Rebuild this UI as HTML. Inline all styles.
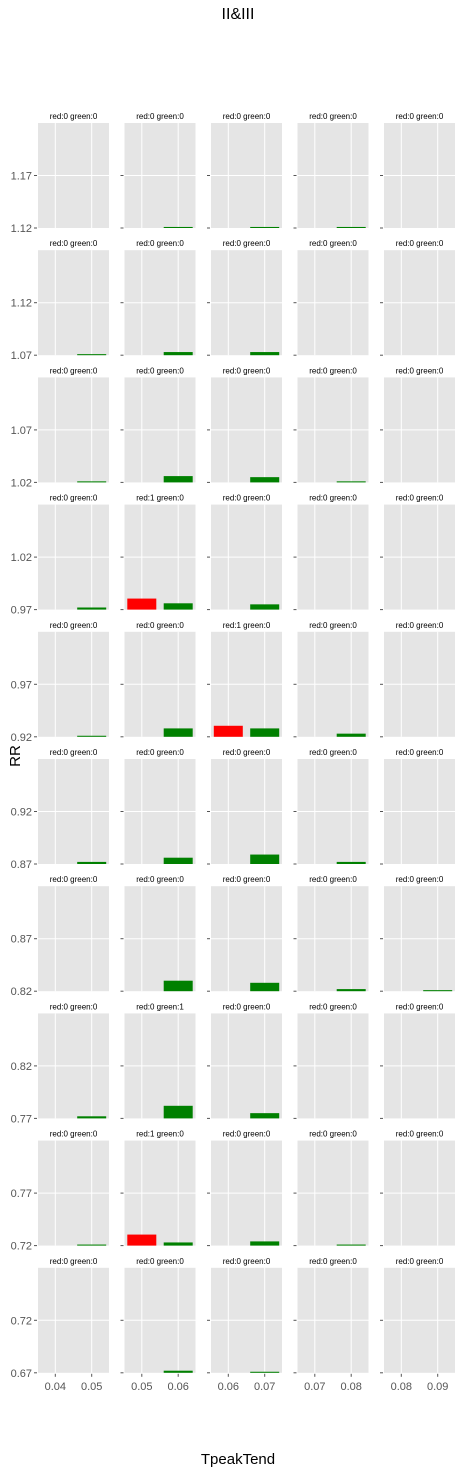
<!DOCTYPE html>
<html><head><meta charset="utf-8">
<style>
body{margin:0;background:#fff;}
svg{display:block;font-family:"Liberation Sans","DejaVu Sans",sans-serif;}
</style></head>
<body>
<svg id="chart" width="466" height="1474" viewBox="0 0 466 1474" xmlns="http://www.w3.org/2000/svg">
<text x="238" y="19" font-size="16" text-anchor="middle" fill="#000">II&amp;III</text>
<text x="20" y="756" font-size="15" text-anchor="middle" fill="#000" transform="rotate(-90 20 756)">RR</text>
<text x="238" y="1464" font-size="15" text-anchor="middle" fill="#000">TpeakTend</text>
</svg>
<script>
// Row baseline values (bottom of each panel's y-range)
const rowBases = [1.12, 1.07, 1.02, 0.97, 0.92, 0.87, 0.82, 0.77, 0.72, 0.67];
// Column x tick labels
const colTicks = [["0.04","0.05"],["0.05","0.06"],["0.06","0.07"],["0.07","0.08"],["0.08","0.09"]];
// Red bar heights (y units) per row/col
const redVals = [
 [0,0,0,0,0],
 [0,0,0,0,0],
 [0,0,0,0,0],
 [0,0.0105,0,0,0],
 [0,0,0.0105,0,0],
 [0,0,0,0,0],
 [0,0,0,0,0],
 [0,0,0,0,0],
 [0,0.0105,0,0,0],
 [0,0,0,0,0]
];
// Green bar heights (y units) per row/col
const greenVals = [
 [0,0.001,0.001,0.001,0],
 [0.001,0.003,0.003,0,0],
 [0.001,0.006,0.005,0.001,0],
 [0.002,0.006,0.005,0,0],
 [0.001,0.008,0.008,0.003,0],
 [0.002,0.006,0.009,0.002,0],
 [0,0.010,0.008,0.002,0.001],
 [0.002,0.012,0.005,0,0],
 [0.001,0.003,0.004,0.001,0],
 [0,0.002,0.001,0,0]
];
// Title counts per row/col
const redCounts = [
 [0,0,0,0,0],[0,0,0,0,0],[0,0,0,0,0],[0,1,0,0,0],[0,0,1,0,0],
 [0,0,0,0,0],[0,0,0,0,0],[0,0,0,0,0],[0,1,0,0,0],[0,0,0,0,0]
];
const greenCounts = [
 [0,0,0,0,0],[0,0,0,0,0],[0,0,0,0,0],[0,0,0,0,0],[0,0,0,0,0],
 [0,0,0,0,0],[0,0,0,0,0],[0,1,0,0,0],[0,0,0,0,0],[0,0,0,0,0]
];

const NS = "http://www.w3.org/2000/svg";
const svg = document.getElementById("chart");
const axW = 71, axH = 105, x0 = 38, colStep = 86.5, y0 = 123, rowStep = 127.2;
const yRange = 0.1;
const tickPos = [17.3, 53.7];
const barW = 29;

function mk(tag, attrs, parent){
  const e = document.createElementNS(NS, tag);
  for (const k in attrs) e.setAttribute(k, attrs[k]);
  (parent||svg).appendChild(e);
  return e;
}
function yScale(v, base, top){ return top + axH - (v - base) / yRange * axH; }

for (let r = 0; r < rowBases.length; r++){
  const top = y0 + r * rowStep;
  const base = rowBases[r];
  for (let c = 0; c < colTicks.length; c++){
    const left = x0 + c * colStep;
    const g = mk("g", {});
    
    
    const bg = mk("rect", {x:left, y:top, width:axW, height:axH, fill:"#e5e5e5"}, g);
    
    
    // grid lines
    for (const tp of tickPos){
      const l = mk("line", {x1:left+tp, x2:left+tp, y1:top, y2:top+axH, stroke:"#fff", "stroke-width":1}, g);
      
      
    }
    const tickY = yScale(base + 0.05, base, top);
    const hl = mk("line", {x1:left, x2:left+axW, y1:tickY, y2:tickY, stroke:"#fff", "stroke-width":1}, g);
    
    
    // y tick marks
    for (const ty of [tickY, top+axH]){
      const tm = mk("line", {x1:left-4, x2:left-1, y1:ty, y2:ty, stroke:"#555", "stroke-width":1}, g);
      
      
    }
    if (c === 0){
      const labs = [[tickY, (base+0.05).toFixed(2)], [top+axH, base.toFixed(2)]];
      for (const [ty, t] of labs){
        const tx = mk("text", {x:left-6, y:ty+4, "font-size":11, "text-anchor":"end", fill:"#555"}, g);
        tx.textContent = t;
        
        
      }
    }
    // bars
    const rv = redVals[r][c], gv = greenVals[r][c];
    if (rv > 0){
      const yy = yScale(base + rv, base, top);
      const b = mk("rect", {x:left+tickPos[0]-barW/2, y:yy, width:barW, height:top+axH-yy, fill:"#ff0000"}, g);
      
      
    }
    if (gv > 0){
      const yy = yScale(base + gv, base, top);
      const b = mk("rect", {x:left+tickPos[1]-barW/2, y:yy, width:barW, height:top+axH-yy, fill:"#008000"}, g);
      
      
    }
    // subplot title
    const t = mk("text", {x:left+axW/2, y:top-4, "font-size":8, "text-anchor":"middle", fill:"#000"}, g);
    t.textContent = "red:" + redCounts[r][c] + " green:" + greenCounts[r][c];
    
    
    // x ticks on last row
    if (r === rowBases.length - 1){
      for (let k = 0; k < 2; k++){
        const xx = left + tickPos[k];
        const tm = mk("line", {x1:xx, x2:xx, y1:top+axH+1, y2:top+axH+4, stroke:"#555", "stroke-width":1}, g);
        
        
        const tx = mk("text", {x:xx, y:top+axH+17, "font-size":11, "text-anchor":"middle", fill:"#555"}, g);
        tx.textContent = colTicks[c][k];
        
        
      }
    }
  }
}
</script>
</body></html>
